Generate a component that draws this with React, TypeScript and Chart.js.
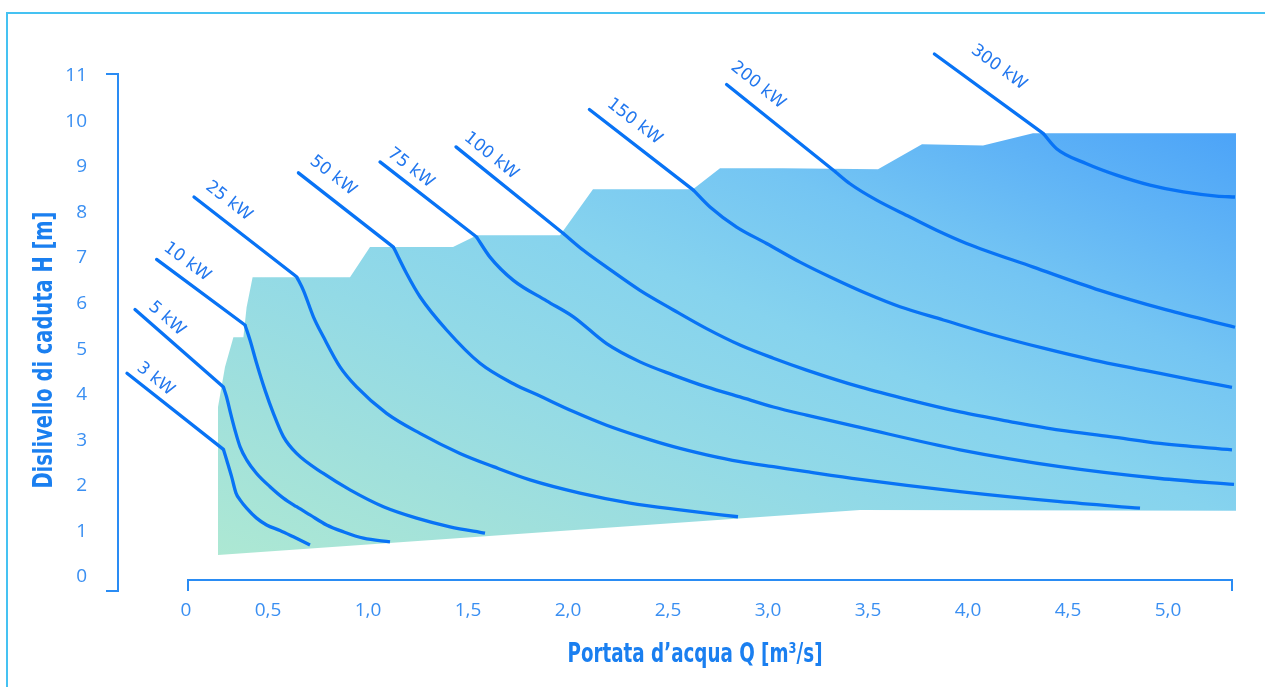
import React, { useEffect, useRef } from 'react';
import { Chart, registerables } from 'chart.js';

Chart.register(...registerables);

// ---------- data ----------
const X_TICK_VALUES = [0.09, 0.5, 1, 1.5, 2, 2.5, 3, 3.5, 4, 4.5, 5];
const X_TICK_LABELS = ['0', '0,5', '1,0', '1,5', '2,0', '2,5', '3,0', '3,5', '4,0', '4,5', '5,0'];
const Y_TICK_VALUES = [0, 1, 2, 3, 4, 5, 6, 7, 8, 9, 10, 11];

// operating field (Q [m3/s], H [m]) – closed outline
const FIELD_Q = [0.25, 0.25, 0.285, 0.327, 0.377, 0.393, 0.423, 0.91, 1.01, 1.425, 1.545, 1.96, 2.125, 2.625, 2.76, 3.075, 3.55, 3.77, 4.075, 4.325, 5.34, 5.34, 3.46, 0.25];
const FIELD_H = [0.48, 3.73, 4.61, 5.26, 5.26, 5.92, 6.58, 6.58, 7.24, 7.24, 7.5, 7.5, 8.51, 8.51, 8.97, 8.97, 8.95, 9.5, 9.47, 9.74, 9.74, 1.45, 1.47, 0.48];

const POWER_LABELS = ['3 kW', '5 kW', '10 kW', '25 kW', '50 kW', '75 kW', '100 kW', '150 kW', '200 kW', '300 kW'];

// iso-power curves: [Q, H]; first point = label end, second = entry into the field
const KW3: [number, number][] = [[-0.205, 4.47], [0.277, 2.8], [0.293, 2.57], [0.318, 2.2], [0.34, 1.84], [0.36, 1.69], [0.393, 1.51], [0.443, 1.29], [0.493, 1.14], [0.56, 1.02], [0.627, 0.88], [0.71, 0.7]];
const KW5: [number, number][] = [[-0.165, 5.87], [0.277, 4.17], [0.293, 3.95], [0.313, 3.59], [0.335, 3.22], [0.36, 2.86], [0.393, 2.57], [0.443, 2.27], [0.51, 1.98], [0.577, 1.73], [0.643, 1.54], [0.71, 1.36], [0.793, 1.14], [0.877, 0.99], [0.977, 0.85], [1.11, 0.77]];
const KW10: [number, number][] = [[-0.057, 6.97], [0.385, 5.53], [0.41, 5.2], [0.443, 4.69], [0.485, 4.1], [0.527, 3.59], [0.577, 3.08], [0.643, 2.71], [0.777, 2.27], [0.91, 1.91], [1.077, 1.54], [1.243, 1.29], [1.41, 1.1], [1.585, 0.96]];
const KW25: [number, number][] = [[0.13, 8.34], [0.643, 6.59], [0.677, 6.29], [0.727, 5.71], [0.777, 5.27], [0.86, 4.61], [0.943, 4.17], [1.093, 3.59], [1.26, 3.15], [1.46, 2.71], [1.627, 2.42], [1.81, 2.13], [2.06, 1.84], [2.31, 1.62], [2.56, 1.47], [2.85, 1.32]];
const KW50: [number, number][] = [[0.652, 8.87], [1.127, 7.24], [1.193, 6.66], [1.26, 6.15], [1.393, 5.42], [1.56, 4.69], [1.727, 4.24], [1.86, 3.97], [2.027, 3.63], [2.193, 3.33], [2.36, 3.08], [2.527, 2.86], [2.693, 2.68], [2.86, 2.53], [3.027, 2.42], [3.193, 2.31], [3.46, 2.14], [3.96, 1.87], [4.46, 1.65], [4.86, 1.51]];
const KW75: [number, number][] = [[1.06, 9.11], [1.543, 7.46], [1.61, 7.02], [1.727, 6.51], [1.893, 6.06], [2.027, 5.71], [2.193, 5.12], [2.36, 4.72], [2.527, 4.43], [2.693, 4.17], [2.86, 3.95], [3.027, 3.73], [3.193, 3.55], [3.46, 3.28], [3.96, 2.79], [4.46, 2.42], [4.96, 2.16], [5.33, 2.03]];
const KW100: [number, number][] = [[1.44, 9.44], [1.977, 7.54], [2.077, 7.17], [2.193, 6.8], [2.36, 6.29], [2.527, 5.86], [2.693, 5.45], [2.86, 5.09], [3.027, 4.8], [3.193, 4.54], [3.46, 4.17], [3.71, 3.88], [3.96, 3.62], [4.21, 3.41], [4.46, 3.22], [4.71, 3.08], [4.96, 2.93], [5.32, 2.79]];
const KW150: [number, number][] = [[2.107, 10.26], [2.627, 8.49], [2.71, 8.12], [2.843, 7.68], [2.993, 7.32], [3.16, 6.91], [3.327, 6.55], [3.493, 6.22], [3.66, 5.93], [3.877, 5.64], [4.127, 5.31], [4.377, 5.02], [4.627, 4.76], [4.877, 4.54], [5.127, 4.32], [5.32, 4.16]];
const KW200: [number, number][] = [[2.793, 10.81], [3.335, 8.9], [3.41, 8.63], [3.543, 8.27], [3.71, 7.9], [3.843, 7.61], [3.993, 7.32], [4.327, 6.8], [4.66, 6.29], [4.993, 5.86], [5.335, 5.48]];
const KW300: [number, number][] = [[3.832, 11.48], [4.377, 9.73], [4.443, 9.4], [4.593, 9.07], [4.743, 8.82], [4.91, 8.6], [5.077, 8.45], [5.243, 8.36], [5.335, 8.34]];

const CURVES = [KW3, KW5, KW10, KW25, KW50, KW75, KW100, KW150, KW200, KW300];

// ---------- style ----------
const W = 1265;
const H = 687;
const LINE_COLOR = '#0873f5';
const AXIS_COLOR = '#2a8cf4';
const TICK_COLOR = '#3a8ff2';
const TITLE_COLOR = '#1a7ff0';
const LABEL_COLOR = '#2277ee';
const FRAME_COLOR = '#45c2f2';
const TICK_FONT = { family: '"Open Sans", "Liberation Sans", sans-serif', size: 19 };
const LABEL_FONT = '17px "DejaVu Sans", "Open Sans", sans-serif';
const TITLE_FAMILY = '"Liberation Sans Narrow", "DejaVu Sans Condensed", "Liberation Sans", sans-serif';
// label placement relative to the first segment of each curve: [along, above] in px
const LABEL_OFFSETS = [[26, 13], [30, 14], [26, 16], [30, 18], [29, 19], [28, 14], [33, 15], [43, 18], [25, 19], [60, 27]];
const GRADIENT_STOPS: [number, string][] = [
  [0, '#ade8d3'], [0.13, '#a0e0dc'], [0.25, '#93dae6'], [0.38, '#86d3ee'],
  [0.5, '#74c5f3'], [0.6, '#5fb3f6'], [0.7, '#4aa2f8'], [1, '#4aa2f8'],
];
const X_AXIS_FROM = 0.1;
const X_AXIS_TO = 5.32;
const X_AXIS_AT = -0.066;

const toPts = (arr: [number, number][]) => arr.map(([x, y]) => ({ x, y }));

function drawFitted(ctx: CanvasRenderingContext2D, text: string, x: number, y: number, rot: number, font: string, targetW: number) {
  ctx.save();
  ctx.font = font;
  const w = ctx.measureText(text).width;
  ctx.translate(x, y);
  ctx.rotate(rot);
  const s = Math.max(0.7, Math.min(1.2, targetW / w));
  ctx.scale(s, 1);
  ctx.fillStyle = TITLE_COLOR;
  ctx.textAlign = 'center';
  ctx.textBaseline = 'alphabetic';
  ctx.fillText(text, 0, 0);
  ctx.restore();
}

const decorPlugin = {
  id: 'decor',
  beforeDraw(chart: any) {
    const c = chart.ctx as CanvasRenderingContext2D;
    c.save();
    c.fillStyle = '#ffffff';
    c.fillRect(0, 0, chart.width, chart.height);
    c.strokeStyle = FRAME_COLOR;
    c.lineWidth = 2;
    c.strokeRect(7, 13, chart.width + 40, chart.height + 40);
    c.restore();
  },
  afterDatasetsDraw(chart: any) {
    const c = chart.ctx as CanvasRenderingContext2D;
    const xs = chart.scales.x;
    const ys = chart.scales.y;
    c.save();
    c.font = LABEL_FONT;
    c.fillStyle = LABEL_COLOR;
    c.textAlign = 'center';
    c.textBaseline = 'middle';
    CURVES.forEach((pts, i) => {
      const x0 = xs.getPixelForValue(pts[0][0]);
      const y0 = ys.getPixelForValue(pts[0][1]);
      const x1 = xs.getPixelForValue(pts[1][0]);
      const y1 = ys.getPixelForValue(pts[1][1]);
      const ang = Math.atan2(y1 - y0, x1 - x0);
      const ux = Math.cos(ang);
      const uy = Math.sin(ang);
      const nx = uy;
      const ny = -ux;
      const [along, above] = LABEL_OFFSETS[i];
      const cx = x0 + along * ux + above * nx;
      const cy = y0 + along * uy + above * ny;
      c.save();
      c.translate(cx, cy);
      c.rotate(ang);
      c.fillText(POWER_LABELS[i], 0, 0);
      c.restore();
    });
    c.restore();
  },
  afterDraw(chart: any) {
    const c = chart.ctx as CanvasRenderingContext2D;
    const xs = chart.scales.x;
    const ys = chart.scales.y;
    const { left, top, bottom } = chart.chartArea;
    c.save();
    c.strokeStyle = AXIS_COLOR;
    c.lineWidth = 2;
    // y axis bracket
    c.beginPath();
    c.moveTo(left - 12, top);
    c.lineTo(left, top);
    c.lineTo(left, bottom);
    c.lineTo(left - 12, bottom);
    c.stroke();
    // x axis bracket
    const xa = xs.getPixelForValue(X_AXIS_FROM);
    const xb = xs.getPixelForValue(X_AXIS_TO);
    const ya = ys.getPixelForValue(X_AXIS_AT);
    c.beginPath();
    c.moveTo(xa, bottom);
    c.lineTo(xa, ya);
    c.lineTo(xb, ya);
    c.lineTo(xb, bottom);
    c.stroke();
    c.restore();
    // titles
    drawFitted(c, 'Dislivello di caduta H [m]', 52, ys.getPixelForValue(4.98), -Math.PI / 2, `bold 27px ${TITLE_FAMILY}`, 277);
    drawFitted(c, 'Portata d\u2019acqua Q [m\u00b3/s]', 695, 662, 0, `bold 26px ${TITLE_FAMILY}`, 255);
  },
};

export default function App() {
  const ref = useRef<HTMLCanvasElement>(null);
  useEffect(() => {
    const canvas = ref.current;
    if (!canvas) return;
    const fieldData = FIELD_Q.map((q, i) => ({ x: q, y: FIELD_H[i] }));
    const curveSets: any[] = [];
    CURVES.forEach((pts, i) => {
      curveSets.push({
        label: POWER_LABELS[i] + ' approach',
        data: toPts(pts.slice(0, 2)),
        borderColor: LINE_COLOR,
        borderWidth: 3.3,
        pointRadius: 0,
        fill: false,
        tension: 0,
        clip: false,
        order: 0,
        borderCapStyle: 'round',
      });
      curveSets.push({
        label: POWER_LABELS[i],
        data: toPts(pts.slice(1)),
        borderColor: LINE_COLOR,
        borderWidth: 3.3,
        pointRadius: 0,
        fill: false,
        cubicInterpolationMode: 'monotone',
        clip: false,
        order: 0,
        borderCapStyle: 'butt',
        borderJoinStyle: 'round',
      });
    });
    const chart = new Chart(canvas, {
      type: 'line',
      data: {
        datasets: [
          {
            label: 'field',
            data: fieldData,
            fill: 'shape',
            borderWidth: 0,
            pointRadius: 0,
            tension: 0,
            order: 10,
            backgroundColor: (ctx: any) => {
              const ch = ctx.chart;
              const xs = ch.scales.x;
              const ys = ch.scales.y;
              if (!ch.chartArea || !xs || !ys) return '#8fd6ea';
              const x0 = xs.getPixelForValue(Math.min(...FIELD_Q));
              const y0 = ys.getPixelForValue(Math.min(...FIELD_H));
              const g = ch.ctx.createLinearGradient(x0, y0, x0 + 451, y0 - 1050);
              GRADIENT_STOPS.forEach(([t, col]) => g.addColorStop(t, col));
              return g;
            },
          } as any,
          ...curveSets,
        ],
      },
      options: {
        animation: false,
        responsive: false,
        events: [],
        layout: { padding: { left: 0, right: 28, top: 74, bottom: 0 } },
        plugins: {
          legend: { display: false },
          tooltip: { enabled: false },
        },
        scales: {
          x: {
            type: 'linear',
            min: -0.25,
            max: 5.345,
            grid: { display: false, drawTicks: false },
            border: { display: false },
            afterBuildTicks: (s: any) => {
              s.ticks = X_TICK_VALUES.map((v) => ({ value: v }));
            },
            afterFit: (s: any) => {
              s.height = 96;
            },
            ticks: {
              autoSkip: false,
              maxRotation: 0,
              minRotation: 0,
              padding: 8,
              color: TICK_COLOR,
              font: TICK_FONT,
              callback: (_v: any, i: number) => X_TICK_LABELS[i],
            },
          },
          y: {
            type: 'linear',
            min: -0.31,
            max: 11.04,
            grid: { display: false, drawTicks: false },
            border: { display: false },
            afterBuildTicks: (s: any) => {
              s.ticks = Y_TICK_VALUES.map((v) => ({ value: v }));
            },
            afterFit: (s: any) => {
              s.width = 118;
            },
            ticks: {
              autoSkip: false,
              padding: 31,
              color: TICK_COLOR,
              font: TICK_FONT,
              callback: (v: any) => String(v),
            },
          },
        },
      },
      plugins: [decorPlugin],
    } as any);
    return () => chart.destroy();
  }, []);
  return (
    <div style={{ position: 'fixed', left: 0, top: 0, width: W, height: H, background: '#fff' }}>
      <canvas ref={ref} width={W} height={H} style={{ display: 'block', width: W, height: H }} />
    </div>
  );
}
